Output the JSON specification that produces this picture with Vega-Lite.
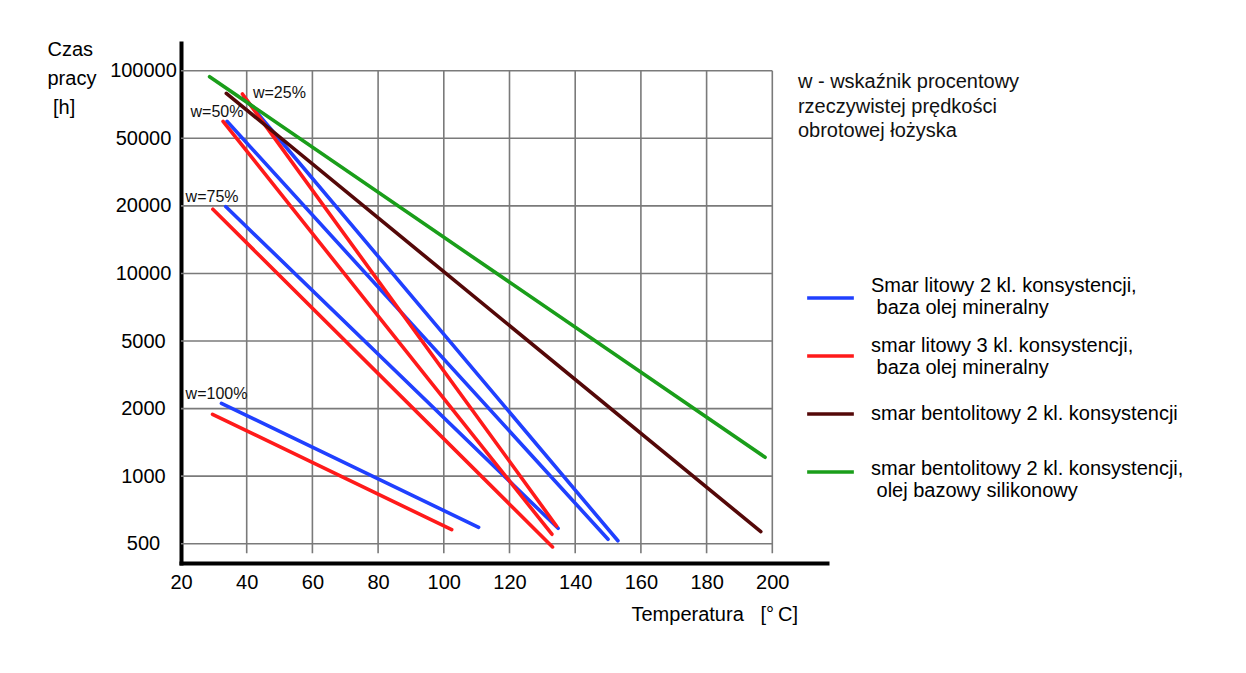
{
  "$schema": "https://vega.github.io/schema/vega-lite/v6.json",
  "width": 646,
  "height": 520,
  "autosize": {"type": "none"},
  "padding": {"left": 181, "top": 43, "right": 419, "bottom": 110},
  "background": "white",
  "config": {"font": "Liberation Sans", "view": {"stroke": null}},
  "datasets": {
    "linie": [
      {"smar": "Smar litowy 2 kl. konsystencji, baza olej mineralny", "w": "25%", "T": 39.1, "h": 80600},
      {"smar": "Smar litowy 2 kl. konsystencji, baza olej mineralny", "w": "25%", "T": 153.0, "h": 522},
      {"smar": "Smar litowy 2 kl. konsystencji, baza olej mineralny", "w": "50%", "T": 34.0, "h": 62600},
      {"smar": "Smar litowy 2 kl. konsystencji, baza olej mineralny", "w": "50%", "T": 150.0, "h": 533},
      {"smar": "Smar litowy 2 kl. konsystencji, baza olej mineralny", "w": "75%", "T": 33.6, "h": 19900},
      {"smar": "Smar litowy 2 kl. konsystencji, baza olej mineralny", "w": "75%", "T": 134.8, "h": 614},
      {"smar": "Smar litowy 2 kl. konsystencji, baza olej mineralny", "w": "100%", "T": 32.3, "h": 2230},
      {"smar": "Smar litowy 2 kl. konsystencji, baza olej mineralny", "w": "100%", "T": 110.6, "h": 621},
      {"smar": "smar litowy 3 kl. konsystencji, baza olej mineralny", "w": "25%", "T": 38.7, "h": 82800},
      {"smar": "smar litowy 3 kl. konsystencji, baza olej mineralny", "w": "25%", "T": 134.3, "h": 631},
      {"smar": "smar litowy 3 kl. konsystencji, baza olej mineralny", "w": "50%", "T": 32.8, "h": 62600},
      {"smar": "smar litowy 3 kl. konsystencji, baza olej mineralny", "w": "50%", "T": 132.9, "h": 570},
      {"smar": "smar litowy 3 kl. konsystencji, baza olej mineralny", "w": "75%", "T": 29.7, "h": 19500},
      {"smar": "smar litowy 3 kl. konsystencji, baza olej mineralny", "w": "75%", "T": 133.1, "h": 476},
      {"smar": "smar litowy 3 kl. konsystencji, baza olej mineralny", "w": "100%", "T": 29.6, "h": 1915},
      {"smar": "smar litowy 3 kl. konsystencji, baza olej mineralny", "w": "100%", "T": 102.4, "h": 604},
      {"smar": "smar bentolitowy 2 kl. konsystencji", "w": "wszystkie", "T": 33.8, "h": 83300},
      {"smar": "smar bentolitowy 2 kl. konsystencji", "w": "wszystkie", "T": 196.5, "h": 589},
      {"smar": "smar bentolitowy 2 kl. konsystencji, olej bazowy silikonowy", "w": "wszystkie", "T": 28.7, "h": 95600},
      {"smar": "smar bentolitowy 2 kl. konsystencji, olej bazowy silikonowy", "w": "wszystkie", "T": 197.8, "h": 1279}
    ],
    "siatkaPozioma": [
      {"h": 500}, {"h": 1000}, {"h": 2000}, {"h": 5000},
      {"h": 10000}, {"h": 20000}, {"h": 50000}, {"h": 100000}
    ],
    "siatkaPionowa": [
      {"T": 40}, {"T": 60}, {"T": 80}, {"T": 100}, {"T": 120},
      {"T": 140}, {"T": 160}, {"T": 180}, {"T": 200}
    ],
    "etykiety": [
      {"etykieta": "w=25%", "T": 41.9, "h": 83800},
      {"etykieta": "w=50%", "T": 22.9, "h": 69700},
      {"etykieta": "w=75%", "T": 21.4, "h": 24100},
      {"etykieta": "w=100%", "T": 21.4, "h": 2650}
    ],
    "opis": [
      {"tekst": "w - wskaźnik procentowy\nrzeczywistej prędkości\nobrotowej łożyska", "T": 207.8, "h": 87000}
    ]
  },
  "layer": [
    {
      "data": {"name": "siatkaPozioma"},
      "mark": {"type": "rule", "color": "#7a7a7a", "strokeWidth": 1.6},
      "encoding": {
        "y": {"field": "h", "type": "quantitative",
          "scale": {"type": "linear", "domain": [357, 500, 1000, 2000, 5000, 10000, 20000, 50000, 100000, 120600], "range": [520, 500.7, 433.1, 365.6, 298, 230.5, 162.9, 95.3, 27.8, 0], "nice": false, "zero": false},
          "axis": {"values": [500, 1000, 2000, 5000, 10000, 20000, 50000, 100000], "grid": false, "ticks": false, "tickSize": 0,
            "domain": true, "domainColor": "black", "domainWidth": 4, "domainCap": "square",
            "labelFontSize": 20, "labelColor": "black", "labelAlign": "center", "labelPadding": 38, "labelFlush": false, "labelOverlap": false,
            "format": "d",
            "title": ["Czas", "pracy", "\u200b\u00a0[h]"], "titleFontSize": 20, "titleFontWeight": "normal", "titleColor": "black",
            "titleAngle": 0, "titleAlign": "left", "titleBaseline": "alphabetic", "titleLineHeight": 29, "titleX": -134, "titleY": 12}},
        "x": {"datum": 20, "type": "quantitative",
          "scale": {"domain": [20, 216.65], "nice": false, "zero": false},
          "axis": {"values": [20, 40, 60, 80, 100, 120, 140, 160, 180, 200], "grid": false, "ticks": false, "tickSize": 0,
            "domain": true, "domainColor": "black", "domainWidth": 4, "domainCap": "square",
            "labelFontSize": 20, "labelColor": "black", "labelPadding": 9, "labelFlush": false, "labelOverlap": false,
            "title": "Temperatura\u00a0\u00a0\u00a0[°\u2009C]", "titleFontSize": 20, "titleFontWeight": "normal", "titleColor": "black",
            "titleAlign": "left", "titleBaseline": "alphabetic", "titleX": 450, "titleY": 57}},
        "x2": {"datum": 200}
      }
    },
    {
      "data": {"name": "siatkaPionowa"},
      "mark": {"type": "rule", "color": "#7a7a7a", "strokeWidth": 1.6},
      "encoding": {
        "x": {"field": "T", "type": "quantitative", "scale": {"domain": [20, 216.65], "nice": false, "zero": false}},
        "y": {"datum": 100000, "type": "quantitative",
          "scale": {"type": "linear", "domain": [357, 500, 1000, 2000, 5000, 10000, 20000, 50000, 100000, 120600], "range": [520, 500.7, 433.1, 365.6, 298, 230.5, 162.9, 95.3, 27.8, 0], "nice": false, "zero": false}},
        "y2": {"datum": 429}
      }
    },
    {
      "data": {"name": "linie"},
      "mark": {"type": "line", "strokeWidth": 3.6, "strokeCap": "round"},
      "encoding": {
        "x": {"field": "T", "type": "quantitative", "scale": {"domain": [20, 216.65], "nice": false, "zero": false}},
        "y": {"field": "h", "type": "quantitative",
          "scale": {"type": "linear", "domain": [357, 500, 1000, 2000, 5000, 10000, 20000, 50000, 100000, 120600], "range": [520, 500.7, 433.1, 365.6, 298, 230.5, 162.9, 95.3, 27.8, 0], "nice": false, "zero": false}},
        "detail": {"field": "w", "type": "nominal"},
        "color": {"field": "smar", "type": "nominal",
          "scale": {
            "domain": ["Smar litowy 2 kl. konsystencji, baza olej mineralny", "smar litowy 3 kl. konsystencji, baza olej mineralny", "smar bentolitowy 2 kl. konsystencji", "smar bentolitowy 2 kl. konsystencji, olej bazowy silikonowy"],
            "range": ["#2040ff", "#ff1a1a", "#540808", "#1a9e1a"]},
          "legend": {
            "orient": "none", "legendX": 624, "legendY": 231, "title": null, "padding": 0,
            "symbolType": "stroke", "symbolSize": 2180, "symbolStrokeWidth": 3.5,
            "labelFontSize": 20, "labelLineHeight": 24, "labelColor": "black", "labelOffset": 15, "labelLimit": 500,
            "clipHeight": 48, "rowPadding": 10,
            "labelExpr": "indexof(datum.label, ', ') > 0 ? [slice(datum.label, 0, indexof(datum.label, ', ') + 1), '\u200b\u00a0' + slice(datum.label, indexof(datum.label, ', ') + 2)] : datum.label",
            "encode": {"labels": {"update": {"dy": {"signal": "datum.value == 'smar bentolitowy 2 kl. konsystencji, olej bazowy silikonowy' ? -3.5 : datum.value == 'smar litowy 3 kl. konsystencji, baza olej mineralny' ? -10.5 : indexof(datum.value, ', ') > 0 ? -12.5 : 0"}}}}
          }}
      }
    },
    {
      "data": {"name": "etykiety"},
      "mark": {"type": "text", "align": "left", "baseline": "middle", "fontSize": 16, "color": "#111111"},
      "encoding": {
        "x": {"field": "T", "type": "quantitative", "scale": {"domain": [20, 216.65], "nice": false, "zero": false}},
        "y": {"field": "h", "type": "quantitative",
          "scale": {"type": "linear", "domain": [357, 500, 1000, 2000, 5000, 10000, 20000, 50000, 100000, 120600], "range": [520, 500.7, 433.1, 365.6, 298, 230.5, 162.9, 95.3, 27.8, 0], "nice": false, "zero": false}},
        "text": {"field": "etykieta", "type": "nominal"}
      }
    },
    {
      "data": {"name": "opis"},
      "mark": {"type": "text", "align": "left", "baseline": "alphabetic", "fontSize": 20, "lineHeight": 24.5, "lineBreak": "\n", "color": "#111111"},
      "encoding": {
        "x": {"field": "T", "type": "quantitative", "scale": {"domain": [20, 216.65], "nice": false, "zero": false}},
        "y": {"field": "h", "type": "quantitative",
          "scale": {"type": "linear", "domain": [357, 500, 1000, 2000, 5000, 10000, 20000, 50000, 100000, 120600], "range": [520, 500.7, 433.1, 365.6, 298, 230.5, 162.9, 95.3, 27.8, 0], "nice": false, "zero": false}},
        "text": {"field": "tekst", "type": "nominal"}
      }
    }
  ]
}
